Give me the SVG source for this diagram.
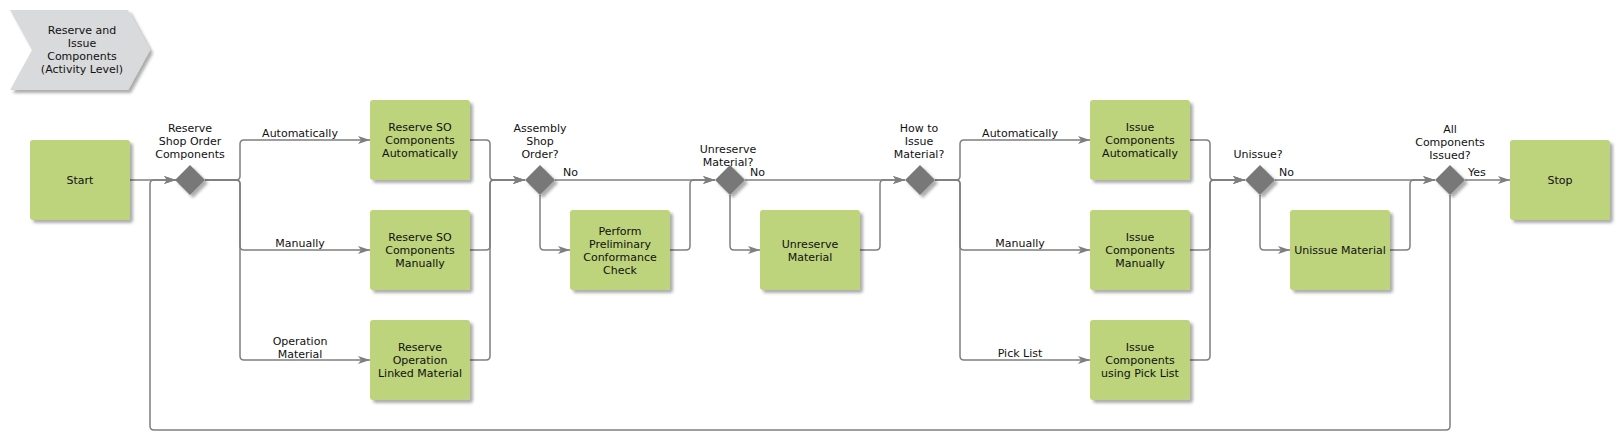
<svg xmlns="http://www.w3.org/2000/svg" width="1620" height="440" viewBox="0 0 1620 440">
<defs>
<filter id="sh" x="-20%" y="-20%" width="150%" height="150%">
<feDropShadow dx="3" dy="3" stdDeviation="1.6" flood-color="#000" flood-opacity="0.32"/>
</filter>
<marker id="arr" viewBox="0 0 12 8" refX="12" refY="4" markerWidth="12" markerHeight="8" markerUnits="userSpaceOnUse" orient="auto">
<path d="M0,0 L12,4 L0,8 L3,4 z" fill="#7f7f7f"/>
</marker>
</defs>
<style>
text{font-family:"DejaVu Sans","Verdana",sans-serif;font-size:11px;fill:#111;text-anchor:middle}
.box{fill:#bdd37c;filter:url(#sh)}
.dia{fill:#787878;filter:url(#sh)}
.hdr{fill:#d9dadc;filter:url(#sh)}
.c{fill:none;stroke:#7f7f7f;stroke-width:1.5}
.a{marker-end:url(#arr)}
.l{text-anchor:start}
</style>
<g id="header">
<polygon class="hdr" points="10,10 128,10 150,50 128,90 10,90 32,50"/>
<text x="82" y="34">Reserve and</text>
<text x="82" y="47">Issue</text>
<text x="82" y="60">Components</text>
<text x="82" y="73">(Activity Level)</text>
</g>
<g id="connectors">
<path class="c a" d="M130,180 H176"/>
<path class="c a" d="M205,180 H236 Q240,180 240,176 V144 Q240,140 244,140 H370"/>
<path class="c a" d="M205,180 H236 Q240,180 240,184 V246 Q240,250 244,250 H370"/>
<path class="c a" d="M205,180 H236 Q240,180 240,184 V356 Q240,360 244,360 H370"/>
<path class="c a" d="M470,140 H486 Q490,140 490,144 V176 Q490,180 494,180 H525"/>
<path class="c a" d="M470,250 H486 Q490,250 490,246 V184 Q490,180 494,180 H525"/>
<path class="c a" d="M470,360 H486 Q490,360 490,356 V184 Q490,180 494,180 H525"/>
<path class="c a" d="M555,180 H715"/>
<path class="c a" d="M540,195 V246 Q540,250 544,250 H570"/>
<path class="c a" d="M670,250 H686 Q690,250 690,246 V184 Q690,180 694,180 H715"/>
<path class="c a" d="M745,180 H905"/>
<path class="c a" d="M730,195 V246 Q730,250 734,250 H760"/>
<path class="c a" d="M860,250 H876 Q880,250 880,246 V184 Q880,180 884,180 H905"/>
<path class="c a" d="M935,180 H956 Q960,180 960,176 V144 Q960,140 964,140 H1090"/>
<path class="c a" d="M935,180 H956 Q960,180 960,184 V246 Q960,250 964,250 H1090"/>
<path class="c a" d="M935,180 H956 Q960,180 960,184 V356 Q960,360 964,360 H1090"/>
<path class="c a" d="M1190,140 H1206 Q1210,140 1210,144 V176 Q1210,180 1214,180 H1245"/>
<path class="c a" d="M1190,250 H1206 Q1210,250 1210,246 V184 Q1210,180 1214,180 H1245"/>
<path class="c a" d="M1190,360 H1206 Q1210,360 1210,356 V184 Q1210,180 1214,180 H1245"/>
<path class="c a" d="M1275,180 H1435"/>
<path class="c a" d="M1260,195 V246 Q1260,250 1264,250 H1290"/>
<path class="c a" d="M1390,250 H1406 Q1410,250 1410,246 V184 Q1410,180 1414,180 H1435"/>
<path class="c a" d="M1465,180 H1510"/>
<path class="c a" d="M1450,195 V426 Q1450,430 1446,430 H154 Q150,430 150,426 V184 Q150,180 154,180 H176"/>
<text x="300" y="137">Automatically</text>
<text x="300" y="247">Manually</text>
<text x="300" y="345">Operation</text>
<text x="300" y="358">Material</text>
<text class="l" x="563" y="176">No</text>
<text class="l" x="750" y="176">No</text>
<text x="1020" y="137">Automatically</text>
<text x="1020" y="247">Manually</text>
<text x="1020" y="357">Pick List</text>
<text class="l" x="1279" y="176">No</text>
<text class="l" x="1468" y="176">Yes</text>
</g>
<g id="start">
<rect class="box" x="30" y="140" width="100" height="80" rx="3"/>
<text x="80" y="184">Start</text>
</g>
<g id="d1">
<polygon class="dia" points="190,165 205,180 190,195 175,180"/>
<text x="190" y="132">Reserve</text>
<text x="190" y="145">Shop Order</text>
<text x="190" y="158">Components</text>
</g>
<g id="reserve-auto">
<rect class="box" x="370" y="100" width="100" height="80" rx="3"/>
<text x="420" y="131">Reserve SO</text>
<text x="420" y="144">Components</text>
<text x="420" y="157">Automatically</text>
</g>
<g id="reserve-manual">
<rect class="box" x="370" y="210" width="100" height="80" rx="3"/>
<text x="420" y="241">Reserve SO</text>
<text x="420" y="254">Components</text>
<text x="420" y="267">Manually</text>
</g>
<g id="reserve-op">
<rect class="box" x="370" y="320" width="100" height="80" rx="3"/>
<text x="420" y="351">Reserve</text>
<text x="420" y="364">Operation</text>
<text x="420" y="377">Linked Material</text>
</g>
<g id="d2">
<polygon class="dia" points="540,165 555,180 540,195 525,180"/>
<text x="540" y="132">Assembly</text>
<text x="540" y="145">Shop</text>
<text x="540" y="158">Order?</text>
</g>
<g id="prelim">
<rect class="box" x="570" y="210" width="100" height="80" rx="3"/>
<text x="620" y="234.5">Perform</text>
<text x="620" y="247.5">Preliminary</text>
<text x="620" y="260.5">Conformance</text>
<text x="620" y="273.5">Check</text>
</g>
<g id="d3">
<polygon class="dia" points="730,165 745,180 730,195 715,180"/>
<text x="728" y="153">Unreserve</text>
<text x="728" y="166">Material?</text>
</g>
<g id="unreserve">
<rect class="box" x="760" y="210" width="100" height="80" rx="3"/>
<text x="810" y="247.5">Unreserve</text>
<text x="810" y="260.5">Material</text>
</g>
<g id="d4">
<polygon class="dia" points="920,165 935,180 920,195 905,180"/>
<text x="919" y="132">How to</text>
<text x="919" y="145">Issue</text>
<text x="919" y="158">Material?</text>
</g>
<g id="issue-auto">
<rect class="box" x="1090" y="100" width="100" height="80" rx="3"/>
<text x="1140" y="131">Issue</text>
<text x="1140" y="144">Components</text>
<text x="1140" y="157">Automatically</text>
</g>
<g id="issue-manual">
<rect class="box" x="1090" y="210" width="100" height="80" rx="3"/>
<text x="1140" y="241">Issue</text>
<text x="1140" y="254">Components</text>
<text x="1140" y="267">Manually</text>
</g>
<g id="issue-pick">
<rect class="box" x="1090" y="320" width="100" height="80" rx="3"/>
<text x="1140" y="351">Issue</text>
<text x="1140" y="364">Components</text>
<text x="1140" y="377">using Pick List</text>
</g>
<g id="d5">
<polygon class="dia" points="1260,165 1275,180 1260,195 1245,180"/>
<text x="1258" y="158">Unissue?</text>
</g>
<g id="unissue">
<rect class="box" x="1290" y="210" width="100" height="80" rx="3"/>
<text x="1340" y="254">Unissue Material</text>
</g>
<g id="d6">
<polygon class="dia" points="1450,165 1465,180 1450,195 1435,180"/>
<text x="1450" y="133">All</text>
<text x="1450" y="146">Components</text>
<text x="1450" y="159">Issued?</text>
</g>
<g id="stop">
<rect class="box" x="1510" y="140" width="100" height="80" rx="3"/>
<text x="1560" y="184">Stop</text>
</g>
</svg>
